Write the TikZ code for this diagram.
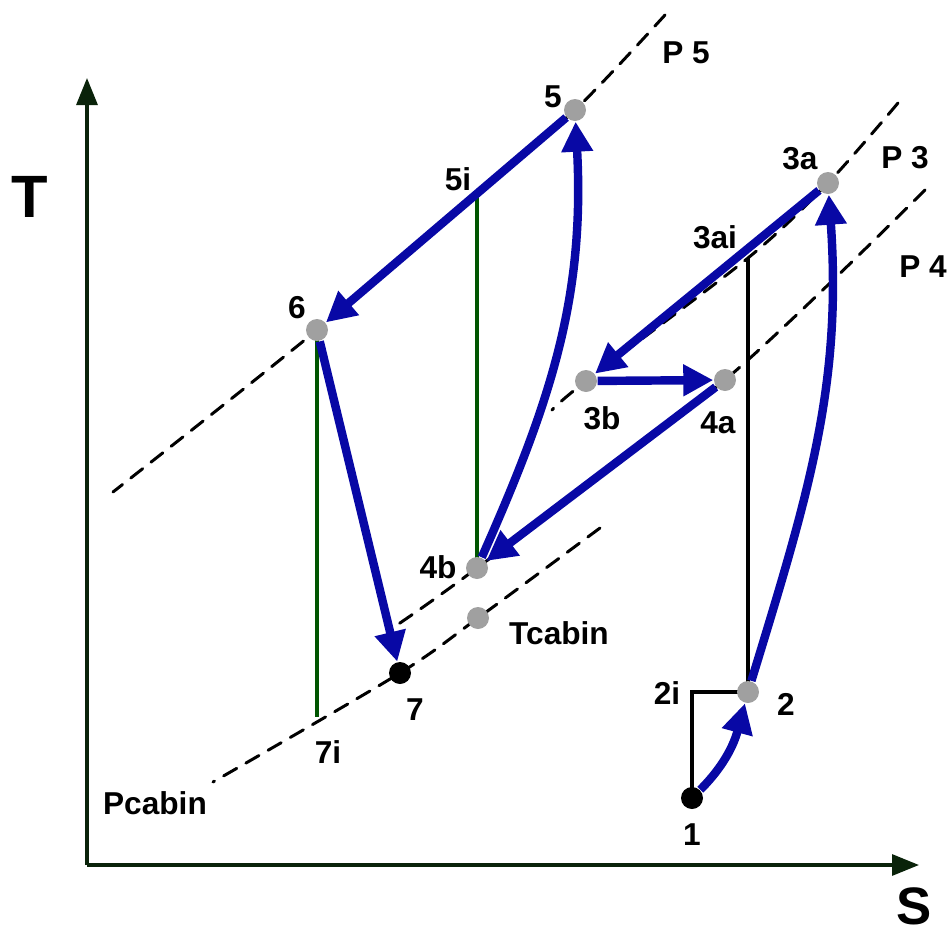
\documentclass[tikz,border=0pt]{standalone}
\usepackage{fontspec}
\setmainfont{Liberation Sans}
\usetikzlibrary{arrows.meta,positioning,calc}
\definecolor{cycleblue}{RGB}{8,8,165}
\definecolor{dotgrey}{RGB}{160,160,160}
\definecolor{isogreen}{RGB}{0,85,0}
\definecolor{axisdark}{RGB}{10,35,10}
\tikzset{
  axis/.style={axisdark,line width=.9pt,-{Triangle[length=.27cm,width=.21cm]}},
  isobar/.style={line width=.85pt,dash pattern=on 4.3pt off 3pt,line cap=round},
  isoline/.style={line width=.95pt},
  state/.style={circle,fill=dotgrey,inner sep=0pt,minimum size=.22cm},
  blackstate/.style={circle,fill=black,inner sep=0pt,minimum size=.22cm},
  process/.style={cycleblue,line width=2.4pt,-{Triangle[length=.3cm,width=.3cm]}},
  lbl/.style={font=\bfseries\fontsize{9}{10}\selectfont,inner sep=0pt},
  axislbl/.style={font=\bfseries\fontsize{17}{18}\selectfont,inner sep=0pt}
}
\begin{document}
\begin{tikzpicture}
    \useasboundingbox (0,0) rectangle (9.49,9.34);
    \coordinate (O) at (.87,.69);
    \coordinate (Tend) at (.87,8.56);
    \coordinate (Send) at (9.19,.69);
    \draw[axis] (O) -- (Tend);
    \draw[axis] (O) -- (Send);
    \node[axislbl] (Tlbl) at (.30,7.37) {T};
    \node[axislbl,font=\bfseries\fontsize{15}{16}\selectfont] (Slbl) at (9.14,.28) {S};

    \coordinate (c1) at (6.92,1.36);
    \coordinate (c2) at (7.48,2.42);
    \coordinate (c2i) at (6.92,2.42);
    \coordinate (c3a) at (8.28,7.51);
    \coordinate (c3ai) at (7.48,6.76);
    \coordinate (c3b) at (5.86,5.53);
    \coordinate (c4a) at (7.25,5.54);
    \coordinate (c4b) at (4.77,3.66);
    \coordinate (c5) at (5.75,8.24);
    \coordinate (c5i) at (4.77,7.42);
    \coordinate (c6) at (3.17,6.04);
    \coordinate (c7) at (4.00,2.61);
    \coordinate (c7i) at (3.17,2.17);
    \coordinate (ctc) at (4.78,3.16);

    % isobars
    \coordinate (p5top) at (6.65,9.19);
    \coordinate (p5bot) at (1.13,4.42);
    \coordinate (p3top) at (8.98,8.31);
    \coordinate (p3bot) at (5.52,5.24);
    \coordinate (p4top) at (9.25,7.44);
    \coordinate (p4bot) at (3.97,3.09);
    \coordinate (pctop) at (6.00,4.06);
    \coordinate (pcbot) at (2.13,1.52);
    \draw[isobar] plot[smooth] coordinates {(p5top) (c5) (c5i) (c6) (p5bot)};
    \draw[isobar] plot[smooth] coordinates {(p3top) (c3a) (c3ai) (c3b) (p3bot)};
    \draw[isobar] plot[smooth] coordinates {(p4top) (c4a) (c4b) (p4bot)};
    \draw[isobar] plot[smooth] coordinates {(pctop) (ctc) (c7) (pcbot)};

    \draw[isoline,isogreen] (c5i) -- (c4b);
    \draw[isoline,isogreen] (c6) -- (c7i);
    \draw[isoline] (c3ai) -- (c2);
    \draw[isoline] (c1) -- (c2i) -- (c2);

    \node[blackstate] (n1) at (c1) {};
    \node[state] (n2) at (c2) {};
    \node[state] (n3a) at (c3a) {};
    \node[state] (n3b) at (c3b) {};
    \node[state] (n4a) at (c4a) {};
    \node[state] (n4b) at (c4b) {};
    \node[state] (n5) at (c5) {};
    \node[state] (n6) at (c6) {};
    \node[blackstate] (n7) at (c7) {};
    \node[state] (ntc) at (ctc) {};

    \draw[process] (n1) to[out=45,in=-105] (n2);
    \draw[process] (n2) to[out=73,in=-86] (n3a);
    \draw[process] (n3a) -- (n3b);
    \draw[process] (n3b) -- (n4a);
    \draw[process] (n4a) -- (n4b);
    \draw[process] (n4b) to[out=66,in=-87] (n5);
    \draw[process] (n5) -- (n6);
    \draw[process] (n6) -- (n7);

    \node[lbl] (l1) at (6.92,.99) {1};
    \node[lbl] (l2) at (7.86,2.30) {2};
    \node[lbl] (l2i) at (6.67,2.41) {2i};
    \node[lbl] (l3a) at (8.00,7.75) {3a};
    \node[lbl] (l3ai) at (7.15,6.97) {3ai};
    \node[lbl] (l3b) at (6.02,5.16) {3b};
    \node[lbl] (l4a) at (7.18,5.11) {4a};
    \node[lbl] (l4b) at (4.38,3.67) {4b};
    \node[lbl] (l5) at (5.53,8.37) {5};
    \node[lbl] (l5i) at (4.58,7.55) {5i};
    \node[lbl] (l6) at (2.97,6.26) {6};
    \node[lbl] (l7) at (4.15,2.24) {7};
    \node[lbl] (l7i) at (3.28,1.82) {7i};
    \node[lbl] (ltc) at (5.59,3.01) {Tcabin};
    \node[lbl] (lpc) at (1.55,1.31) {Pcabin};
    \node[lbl] (lp5) at (6.86,8.81) {P 5};
    \node[lbl] (lp3) at (9.05,7.76) {P 3};
    \node[lbl] (lp4) at (9.23,6.67) {P 4};
\end{tikzpicture}
\end{document}
